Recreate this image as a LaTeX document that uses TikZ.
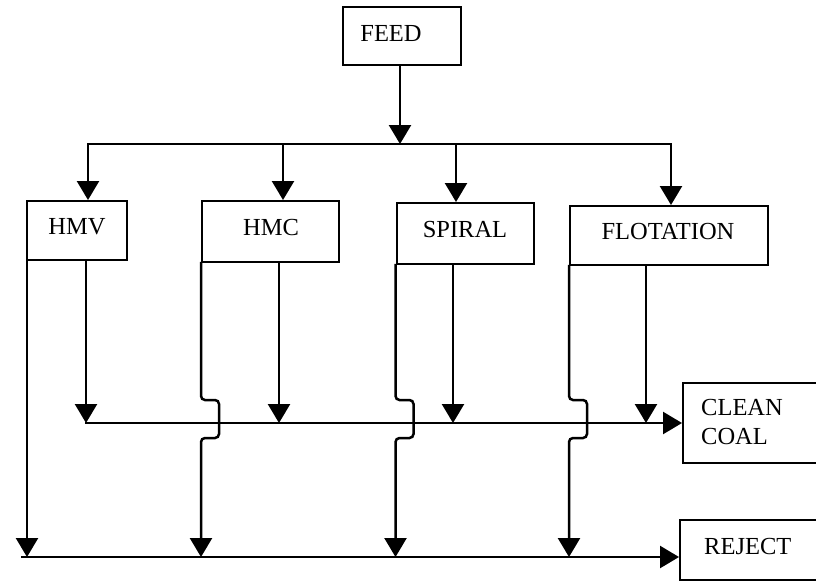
\documentclass[tikz,border=0pt]{standalone}
\usepackage{fontspec}
\setmainfont{Liberation Serif}
\usetikzlibrary{arrows.meta}
\begin{document}
\begin{tikzpicture}[x=1pt,y=-1pt,
  box/.style={draw, line width=2pt, inner sep=0pt},
  lbl/.style={inner sep=0pt, font=\fontsize{24.5}{29}\selectfont},
  wire/.style={line width=2.5pt, line cap=rect},
  flow/.style={wire, -{Triangle[length=19pt,width=22pt]}},
  ]
\useasboundingbox (0,0) rectangle (816,581);
\clip (0,0) rectangle (816,581);

% boxes
\node[box, minimum width=118pt, minimum height=58pt] (feed) at (402,36) {};
\node[lbl] (feedt) at (391,33.5) {FEED};
\node[box, minimum width=100pt, minimum height=59pt] (hmv) at (77,230.5) {};
\node[lbl] (hmvt) at (77,226.5) {HMV};
\node[box, minimum width=137pt, minimum height=61pt] (hmc) at (270.5,231.5) {};
\node[lbl] (hmct) at (271,228) {HMC};
\node[box, minimum width=137pt, minimum height=61pt] (spiral) at (465,233.5) {};
\node[lbl] (spiralt) at (465,230) {SPIRAL};
\node[box, minimum width=198pt, minimum height=59pt] (flot) at (669,235.5) {};
\node[lbl] (flott) at (668,231.5) {FLOTATION};
\node[box, minimum width=170pt, minimum height=80pt] (clean) at (768,423) {};
\node[lbl, align=left, anchor=west] (cleant) at (701,422) {CLEAN\\COAL};
\node[box, minimum width=170pt, minimum height=60pt] (reject) at (765,550) {};
\node[lbl, anchor=west] (rejectt) at (704,546) {REJECT};

% distributor
\coordinate (dist) at (400,144);
\coordinate (dL) at (88,144);
\coordinate (d2) at (283,144);
\coordinate (d3) at (456,144);
\coordinate (dR) at (671,144);
\draw[flow] (dist |- feed.south) -- (dist);
\draw[flow] (dR) -- (dL) -- (dL |- hmv.north);
\draw[flow] (d2) -- (d2 |- hmc.north);
\draw[flow] (d3) -- (d3 |- spiral.north);
\draw[flow] (dR) -- (dR |- flot.north);

% collecting lines
\coordinate (c0) at (86,423);
\coordinate (r0) at (22,557);
\coordinate (b1) at (0,400);
\coordinate (b2) at (0,438);
\draw[flow] (c0) -- (clean.west);
\draw[flow] (r0) -- (r0 -| reject.west);

% clean coal outputs
\coordinate (hmvR) at (86,0);
\coordinate (hmcR) at (279,0);
\coordinate (spR) at (453,0);
\coordinate (flR) at (646,0);
\draw[flow] (hmvR |- hmv.south) -- (hmvR |- c0);
\draw[flow] (hmcR |- hmc.south) -- (hmcR |- c0);
\draw[flow] (spR |- spiral.south) -- (spR |- c0);
\draw[flow] (flR |- flot.south) -- (flR |- c0);

% reject outputs
\coordinate (hmvL) at (27,0);
\draw[flow] (hmvL |- hmv.south) -- (hmvL |- r0);
\draw[flow, rounded corners=4pt] (hmc.south west) -- (hmc.south west |- b1) -- ++(18,0) |- (hmc.south west |- b2) -- (hmc.south west |- r0);
\draw[flow, rounded corners=4pt] (spiral.south west) -- (spiral.south west |- b1) -- ++(18,0) |- (spiral.south west |- b2) -- (spiral.south west |- r0);
\draw[flow, rounded corners=4pt] (flot.south west) -- (flot.south west |- b1) -- ++(18,0) |- (flot.south west |- b2) -- (flot.south west |- r0);
\end{tikzpicture}
\end{document}
